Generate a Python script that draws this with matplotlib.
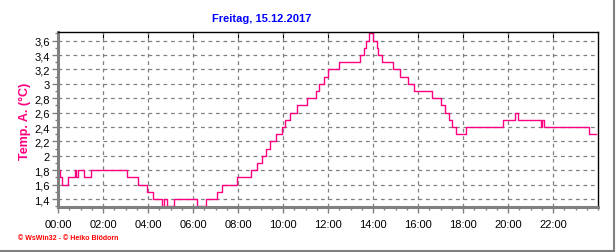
import matplotlib.pyplot as plt
import matplotlib.ticker as ticker
from matplotlib.lines import Line2D

# Temperature breakpoints (hour of day, degC), drawn as steps
hours = [0.0, 0.09, 0.16, 0.43, 0.76, 0.82, 0.9, 1.15, 1.47, 3.08, 3.55, 3.96,
         4.24, 4.62, 4.70, 4.84, 5.17, 6.17, 6.58, 7.08, 7.3, 7.95, 8.58, 8.84,
         9.08, 9.25, 9.44, 9.7, 9.96, 10.1, 10.31, 10.62, 11.08, 11.48, 11.6,
         11.8, 11.99, 12.48, 13.4, 13.62, 13.67, 13.82, 14.02, 14.18, 14.22,
         14.4, 14.9, 15.2, 15.55, 15.82, 16.63, 17.04, 17.22, 17.37, 17.49,
         17.67, 18.15, 19.78, 20.3, 20.43, 21.46, 21.53, 21.6, 23.62, 23.9]
temps = [1.8, 1.7, 1.6, 1.7, 1.8, 1.7, 1.8, 1.7, 1.8, 1.7, 1.6, 1.5,
         1.4, 1.3, 1.4, 1.3, 1.4, 1.3, 1.4, 1.5, 1.6, 1.7, 1.8, 1.9,
         2.0, 2.1, 2.2, 2.3, 2.4, 2.5, 2.6, 2.7, 2.8, 2.9, 3.0,
         3.1, 3.2, 3.3, 3.4, 3.5, 3.6, 3.7, 3.6, 3.5, 3.4,
         3.3, 3.2, 3.1, 3.0, 2.9, 2.8, 2.7, 2.6, 2.5, 2.4,
         2.3, 2.4, 2.5, 2.6, 2.5, 2.4, 2.5, 2.4, 2.3, 2.3]

x_ticks = list(range(0, 24, 2))
x_labels = ["%02d:00" % h for h in x_ticks]
y_ticks = [1.4, 1.6, 1.8, 2.0, 2.2, 2.4, 2.6, 2.8, 3.0, 3.2, 3.4, 3.6]
y_labels = [("%g" % v).replace(".", ",") for v in y_ticks]

title = "Freitag, 15.12.2017"
ylabel = "Temp. A. (°C)"
footer = "© WsWin32 - © Heiko Blödorn"

pink = "#ff0080"
grey = "#808080"

plt.rcParams['font.family'] = ['Liberation Sans', 'DejaVu Sans']

fig = plt.figure(figsize=(6.16, 2.53), dpi=100)
ax = fig.add_axes([58 / 616, 1 - 208 / 253, 540 / 616, 175 / 253])

ax.plot(hours, temps, color=pink, linewidth=1.0, drawstyle='steps-post')

ax.set_xlim(0, 24)
ax.set_ylim(1.29, 3.72)

ax.set_xticks(x_ticks)
ax.set_xticklabels(x_labels, fontsize=8)
ax.xaxis.set_minor_locator(ticker.MultipleLocator(0.5))
ax.set_yticks(y_ticks)
ax.set_yticklabels(y_labels, fontsize=8)
ax.yaxis.set_minor_locator(ticker.MultipleLocator(0.1))

ax.grid(True, which='major', color=grey, linestyle=(0, (3, 3)), linewidth=0.9)
ax.tick_params(axis='both', which='major', length=4, width=1, color=grey, pad=2)
ax.tick_params(axis='both', which='minor', length=2.5, width=1, color=grey)
ax.tick_params(axis='x', pad=5)

for side in ['left', 'bottom']:
    ax.spines[side].set_color(grey)
    ax.spines[side].set_linewidth(2.2)
for side in ['top', 'right']:
    ax.spines[side].set_color('black')
    ax.spines[side].set_linewidth(1)

# short inward ticks along the top edge, no labels
sec = ax.secondary_xaxis('top')
sec.set_xticks(x_ticks)
sec.tick_params(direction='in', length=4, color='black', labeltop=False)
sec.xaxis.set_minor_locator(ticker.NullLocator())
sec.spines['top'].set_visible(False)

fig.text(262 / 616, 1 - 19 / 253, title, color='#0000ff', fontsize=8,
         fontweight='bold', ha='center', va='center')
fig.text(25 / 616, 1 - 121 / 253, ylabel, color=pink, fontsize=9,
         fontweight='bold', rotation=90, ha='center', va='center')
fig.text(18 / 616, 1 - 239 / 253, footer, color='#ff0000', fontsize=5,
         fontweight='bold', ha='left', va='center')

# grey frame lines on the right and bottom of the picture
fig.add_artist(Line2D([613.5 / 616, 613.5 / 616], [0, 1], color=grey, linewidth=1.5))
fig.add_artist(Line2D([0, 614 / 616], [1.5 / 253, 1.5 / 253], color=grey, linewidth=1.5))

fig.savefig("out.png", dpi=100, facecolor='white')
